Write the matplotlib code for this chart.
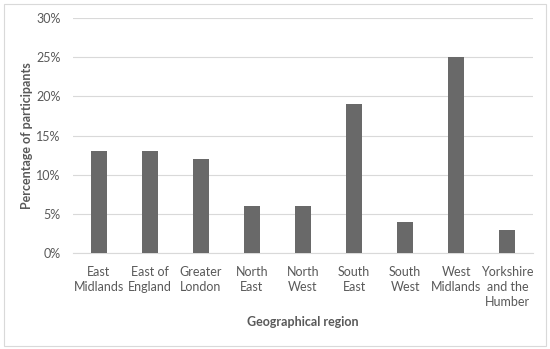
import matplotlib
matplotlib.use("Agg")
import matplotlib.pyplot as plt
from matplotlib.ticker import PercentFormatter
from matplotlib.patches import Rectangle

categories = ["East\nMidlands", "East of\nEngland", "Greater\nLondon", "North\nEast",
              "North\nWest", "South\nEast", "South\nWest", "West\nMidlands",
              "Yorkshire\nand the\nHumber"]
values = [13, 13, 12, 6, 6, 19, 4, 25, 3]

plt.rcParams['font.family'] = ['Lato', 'DejaVu Sans']
txt = '#595959'

fig = plt.figure(figsize=(5.5, 3.49), dpi=100)
ax = fig.add_axes([0.133, 0.275, 0.836, 0.673])
fig.patches.append(Rectangle((0.007, 0.01), 0.986, 0.978, transform=fig.transFigure,
                             fill=False, edgecolor='#d9d9d9', linewidth=0.8))

x = range(len(categories))
ax.bar(x, values, width=0.31, color='#696969', zorder=3)
ax.set_xlim(-0.5, len(categories) - 0.5)
ax.set_ylim(0, 30)
ax.set_yticks(range(0, 31, 5))
ax.yaxis.set_major_formatter(PercentFormatter(decimals=0))
ax.set_xticks(list(x))
ax.set_xticklabels(categories, fontsize=9, color=txt, linespacing=1.3)
ax.tick_params(axis='y', labelsize=9, labelcolor=txt, length=0, pad=9)
ax.tick_params(axis='x', length=0, pad=9)
ax.grid(axis='y', color='#d9d9d9', linewidth=0.8, zorder=0)
for s in ['top', 'right', 'left']:
    ax.spines[s].set_visible(False)
ax.spines['bottom'].set_color('#d9d9d9')
ax.set_xlabel('Geographical region', fontsize=9, color=txt, fontweight='bold')
ax.set_ylabel('Percentage of participants', fontsize=9, color=txt, fontweight='bold')
ax.yaxis.set_label_coords(-0.087, 0.5)
ax.xaxis.set_label_coords(0.5, -0.27)

fig.savefig('out.png', dpi=100)
